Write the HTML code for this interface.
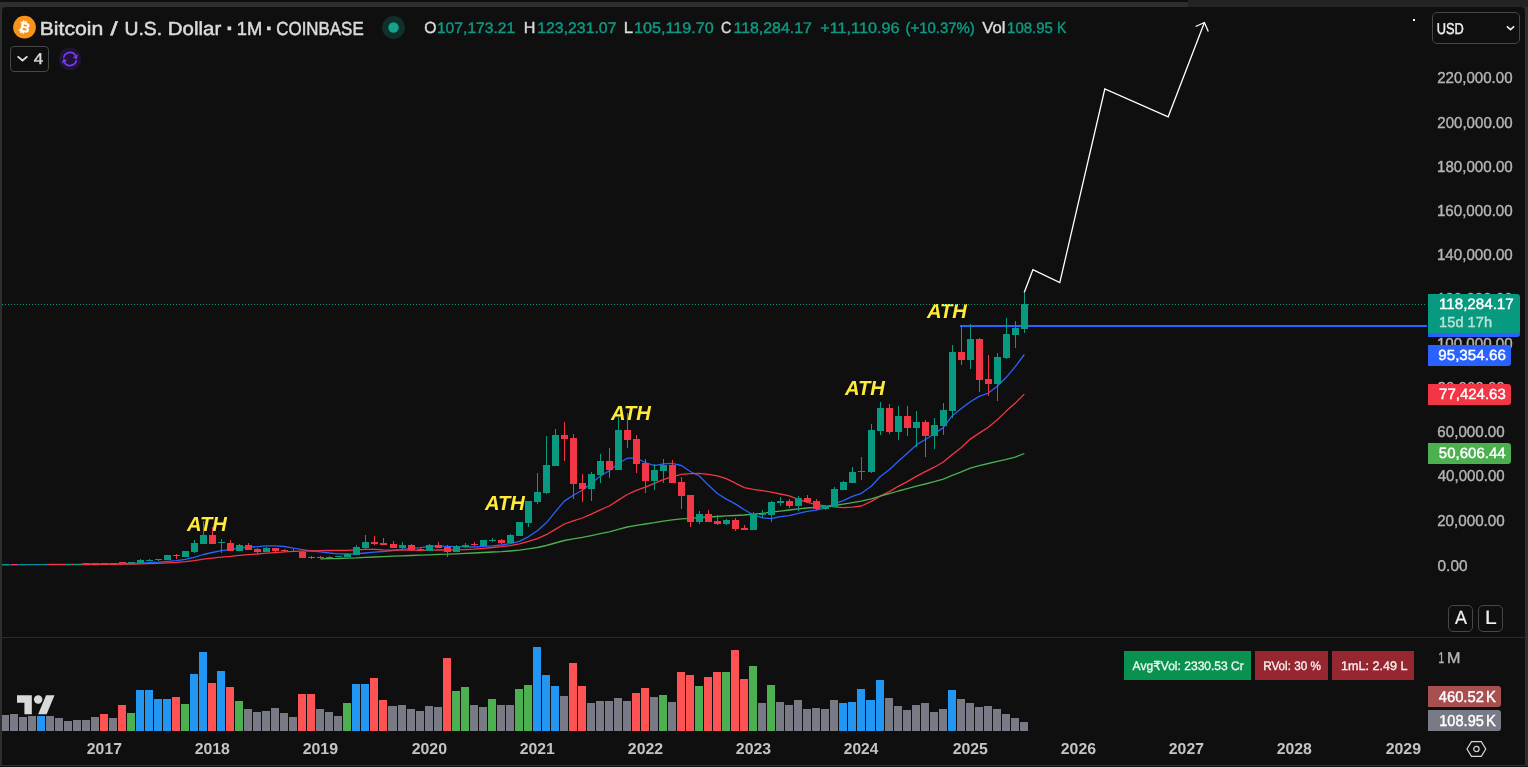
<!DOCTYPE html>
<html lang="en"><head><meta charset="utf-8"><title>Bitcoin / U.S. Dollar · 1M · COINBASE</title>
<style>
html,body{margin:0;padding:0;}
body{width:1528px;height:767px;overflow:hidden;background:#2e2e2e;position:relative;font-family:"Liberation Sans",sans-serif;}
.t0{position:absolute;left:0;top:0;width:1188px;height:2px;background:#0f0f0f;}
.t1{position:absolute;left:1188px;top:0;width:340px;height:7px;background:#232323;}
.bot{position:absolute;left:0;top:766px;width:1528px;height:1px;background:#111;}
.chart{position:absolute;left:2px;top:7px;width:1523px;height:758px;background:#0f0f0f;border-radius:4px 4px 0 0;overflow:hidden;}
.in{position:absolute;left:-2px;top:-7px;width:1528px;height:767px;}
.in svg{position:absolute;left:0;top:0;}
.t{position:absolute;white-space:nowrap;line-height:1;transform-origin:0 0;}
.sep{position:absolute;left:2px;top:637px;width:1523px;height:1px;background:#2b2b2b;}
.tag{position:absolute;left:1428px;border-radius:0 3px 3px 0;}
.btn{position:absolute;box-sizing:border-box;border:1px solid #474747;border-radius:5px;}
.cell{position:absolute;top:651px;height:29px;}
</style></head><body>
<div class="t0"></div><div class="t1"></div><div class="bot"></div>
<div class="chart"><div class="in">
<div class="ath-layer">
<span class="t ath" style="left:186px;top:514px;font-size:20.29px;color:#ffeb3b;transform:translateX(0.92px) scaleX(0.9954) skewX(0.05deg);font-weight:bold;font-style:italic;">ATH</span>
<span class="t ath" style="left:484px;top:493px;font-size:20.29px;color:#ffeb3b;transform:translateX(0.92px) scaleX(0.9954) skewX(0.05deg);font-weight:bold;font-style:italic;">ATH</span>
<span class="t ath" style="left:610px;top:403px;font-size:20.29px;color:#ffeb3b;transform:translateX(0.92px) scaleX(0.9954) skewX(0.05deg);font-weight:bold;font-style:italic;">ATH</span>
<span class="t ath" style="left:844px;top:378px;font-size:20.29px;color:#ffeb3b;transform:translateX(0.92px) scaleX(0.9954) skewX(0.05deg);font-weight:bold;font-style:italic;">ATH</span>
<span class="t ath" style="left:926px;top:301px;font-size:20.29px;color:#ffeb3b;transform:translateX(0.92px) scaleX(0.9954) skewX(0.05deg);font-weight:bold;font-style:italic;">ATH</span>
</div>
<svg width="1528" height="767" viewBox="0 0 1528 767">
<rect x="960" y="325" width="467" height="2" fill="#2962ff" shape-rendering="crispEdges"/>
<g shape-rendering="crispEdges"><rect x="1" y="715" width="8" height="16" fill="#787b86"/><rect x="10" y="714" width="8" height="17" fill="#787b86"/><rect x="19" y="717" width="8" height="14" fill="#787b86"/><rect x="28" y="716" width="8" height="15" fill="#787b86"/><rect x="37" y="716" width="8" height="15" fill="#2196f3"/><rect x="46" y="716" width="8" height="15" fill="#787b86"/><rect x="55" y="718" width="8" height="13" fill="#787b86"/><rect x="64" y="721" width="8" height="10" fill="#787b86"/><rect x="73" y="720" width="8" height="11" fill="#787b86"/><rect x="82" y="720" width="8" height="11" fill="#787b86"/><rect x="91" y="717" width="8" height="14" fill="#787b86"/><rect x="100" y="714" width="8" height="17" fill="#ff5252"/><rect x="109" y="718" width="8" height="13" fill="#787b86"/><rect x="118" y="705" width="8" height="26" fill="#ff5252"/><rect x="127" y="713" width="8" height="18" fill="#4caf50"/><rect x="136" y="690" width="8" height="41" fill="#2196f3"/><rect x="145" y="690" width="8" height="41" fill="#2196f3"/><rect x="154" y="699" width="8" height="32" fill="#2196f3"/><rect x="163" y="699" width="8" height="32" fill="#2196f3"/><rect x="172" y="697" width="8" height="34" fill="#ff5252"/><rect x="181" y="704" width="8" height="27" fill="#4caf50"/><rect x="190" y="674" width="8" height="57" fill="#2196f3"/><rect x="199" y="652" width="8" height="79" fill="#2196f3"/><rect x="208" y="683" width="8" height="48" fill="#ff5252"/><rect x="217" y="671" width="8" height="60" fill="#2196f3"/><rect x="226" y="687" width="8" height="44" fill="#ff5252"/><rect x="235" y="701" width="8" height="30" fill="#4caf50"/><rect x="244" y="709" width="8" height="22" fill="#787b86"/><rect x="253" y="712" width="8" height="19" fill="#787b86"/><rect x="262" y="711" width="8" height="20" fill="#787b86"/><rect x="271" y="708" width="8" height="23" fill="#787b86"/><rect x="280" y="713" width="8" height="18" fill="#787b86"/><rect x="289" y="717" width="8" height="14" fill="#787b86"/><rect x="298" y="694" width="8" height="37" fill="#ff5252"/><rect x="307" y="694" width="8" height="37" fill="#ff5252"/><rect x="316" y="709" width="8" height="22" fill="#787b86"/><rect x="325" y="712" width="8" height="19" fill="#787b86"/><rect x="334" y="716" width="8" height="15" fill="#787b86"/><rect x="343" y="703" width="8" height="28" fill="#4caf50"/><rect x="352" y="684" width="8" height="47" fill="#2196f3"/><rect x="361" y="684" width="8" height="47" fill="#2196f3"/><rect x="370" y="678" width="8" height="53" fill="#ff5252"/><rect x="379" y="700" width="8" height="31" fill="#ff5252"/><rect x="388" y="706" width="9" height="25" fill="#787b86"/><rect x="398" y="705" width="8" height="26" fill="#787b86"/><rect x="407" y="709" width="8" height="22" fill="#787b86"/><rect x="416" y="711" width="8" height="20" fill="#787b86"/><rect x="425" y="706" width="8" height="25" fill="#787b86"/><rect x="434" y="707" width="8" height="24" fill="#787b86"/><rect x="443" y="658" width="8" height="73" fill="#ff5252"/><rect x="452" y="691" width="8" height="40" fill="#4caf50"/><rect x="461" y="687" width="8" height="44" fill="#4caf50"/><rect x="470" y="705" width="8" height="26" fill="#787b86"/><rect x="479" y="707" width="8" height="24" fill="#787b86"/><rect x="488" y="699" width="8" height="32" fill="#4caf50"/><rect x="497" y="705" width="8" height="26" fill="#787b86"/><rect x="506" y="705" width="8" height="26" fill="#787b86"/><rect x="515" y="689" width="8" height="42" fill="#4caf50"/><rect x="524" y="685" width="8" height="46" fill="#4caf50"/><rect x="533" y="647" width="8" height="84" fill="#2196f3"/><rect x="542" y="675" width="8" height="56" fill="#2196f3"/><rect x="551" y="686" width="8" height="45" fill="#2196f3"/><rect x="560" y="696" width="8" height="35" fill="#787b86"/><rect x="569" y="663" width="8" height="68" fill="#ff5252"/><rect x="578" y="686" width="8" height="45" fill="#ff5252"/><rect x="587" y="703" width="8" height="28" fill="#787b86"/><rect x="596" y="701" width="8" height="30" fill="#787b86"/><rect x="605" y="701" width="8" height="30" fill="#787b86"/><rect x="614" y="698" width="8" height="33" fill="#787b86"/><rect x="623" y="701" width="8" height="30" fill="#787b86"/><rect x="632" y="693" width="8" height="38" fill="#ff5252"/><rect x="641" y="688" width="8" height="43" fill="#ff5252"/><rect x="650" y="697" width="8" height="34" fill="#787b86"/><rect x="659" y="695" width="8" height="36" fill="#4caf50"/><rect x="668" y="702" width="8" height="29" fill="#787b86"/><rect x="677" y="672" width="8" height="59" fill="#ff5252"/><rect x="686" y="675" width="8" height="56" fill="#ff5252"/><rect x="695" y="686" width="8" height="45" fill="#4caf50"/><rect x="704" y="677" width="8" height="54" fill="#ff5252"/><rect x="713" y="672" width="8" height="59" fill="#ff5252"/><rect x="722" y="672" width="8" height="59" fill="#4caf50"/><rect x="731" y="650" width="8" height="81" fill="#ff5252"/><rect x="740" y="679" width="8" height="52" fill="#ff5252"/><rect x="749" y="666" width="8" height="65" fill="#4caf50"/><rect x="758" y="703" width="8" height="28" fill="#787b86"/><rect x="767" y="685" width="8" height="46" fill="#4caf50"/><rect x="776" y="702" width="8" height="29" fill="#787b86"/><rect x="785" y="705" width="8" height="26" fill="#787b86"/><rect x="794" y="700" width="8" height="31" fill="#787b86"/><rect x="803" y="709" width="8" height="22" fill="#787b86"/><rect x="812" y="708" width="8" height="23" fill="#787b86"/><rect x="821" y="709" width="8" height="22" fill="#787b86"/><rect x="830" y="700" width="8" height="31" fill="#787b86"/><rect x="839" y="703" width="8" height="28" fill="#2196f3"/><rect x="848" y="702" width="8" height="29" fill="#2196f3"/><rect x="857" y="689" width="8" height="42" fill="#2196f3"/><rect x="866" y="700" width="9" height="31" fill="#2196f3"/><rect x="876" y="680" width="8" height="51" fill="#2196f3"/><rect x="885" y="698" width="8" height="33" fill="#787b86"/><rect x="894" y="706" width="8" height="25" fill="#787b86"/><rect x="903" y="710" width="8" height="21" fill="#787b86"/><rect x="912" y="705" width="8" height="26" fill="#787b86"/><rect x="921" y="703" width="8" height="28" fill="#787b86"/><rect x="930" y="712" width="8" height="19" fill="#787b86"/><rect x="939" y="709" width="8" height="22" fill="#787b86"/><rect x="948" y="690" width="8" height="41" fill="#2196f3"/><rect x="957" y="699" width="8" height="32" fill="#787b86"/><rect x="966" y="703" width="8" height="28" fill="#787b86"/><rect x="975" y="707" width="8" height="24" fill="#787b86"/><rect x="984" y="706" width="8" height="25" fill="#787b86"/><rect x="993" y="709" width="8" height="22" fill="#787b86"/><rect x="1002" y="714" width="8" height="17" fill="#787b86"/><rect x="1011" y="718" width="8" height="13" fill="#787b86"/><rect x="1020" y="722" width="8" height="9" fill="#787b86"/></g>
<polyline points="-12.7,564.9 -3.7,564.8 5.3,564.8 14.3,564.8 23.3,564.7 32.3,564.7 41.3,564.6 50.3,564.5 59.3,564.4 68.3,564.4 77.3,564.3 86.3,564.2 95.3,564.1 104.3,564.0 113.3,563.8 122.3,563.7 131.3,563.5 140.3,563.2 149.3,562.7 158.3,562.2 167.3,561.4 176.3,560.6 185.3,559.3 194.3,557.3 203.3,554.5 212.3,552.5 221.3,550.6 230.3,549.6 239.3,548.1 248.3,547.0 257.3,546.7 266.3,545.9 275.3,545.8 284.3,546.5 293.3,548.2 302.3,549.6 311.3,551.0 320.3,551.8 329.3,553.0 338.3,553.8 347.3,554.0 356.3,553.8 365.3,553.0 374.3,552.2 383.3,551.5 393.3,550.5 402.3,549.3 411.3,548.4 420.3,547.7 429.3,546.5 438.3,545.8 447.3,546.3 456.3,546.7 465.3,546.9 474.3,547.0 483.3,546.3 492.3,545.8 501.3,545.0 510.3,543.6 519.3,541.3 528.3,536.8 537.3,530.8 546.3,522.8 555.3,511.8 564.3,501.1 573.3,495.3 582.3,490.2 591.3,483.4 600.3,476.0 609.3,470.7 618.3,463.5 627.3,458.2 636.3,458.0 645.3,462.5 654.3,465.7 663.3,463.9 672.3,463.3 681.3,465.5 690.3,471.5 699.3,476.0 708.3,485.1 717.3,493.5 726.3,499.1 735.3,503.9 744.3,509.8 753.3,514.7 762.3,517.9 771.3,518.7 780.3,516.6 789.3,515.7 798.3,513.4 807.3,511.3 816.3,510.1 825.3,507.9 834.3,503.9 843.3,500.7 852.3,496.4 861.3,493.3 871.3,486.2 880.3,476.5 889.3,469.8 898.3,461.3 907.3,453.2 916.3,444.9 925.3,439.5 934.3,433.8 943.3,427.6 952.3,415.7 961.3,408.6 970.3,401.7 979.3,396.4 988.3,393.1 997.3,386.2 1006.3,377.3 1015.3,366.6 1024.3,354.5" fill="none" stroke="#2962ff" stroke-width="1.3" stroke-linejoin="round" stroke-linecap="butt"/>
<polyline points="50.3,564.7 59.3,564.7 68.3,564.6 77.3,564.6 86.3,564.5 95.3,564.5 104.3,564.4 113.3,564.3 122.3,564.2 131.3,564.1 140.3,563.8 149.3,563.6 158.3,563.3 167.3,562.8 176.3,562.4 185.3,561.7 194.3,560.7 203.3,559.2 212.3,558.1 221.3,557.1 230.3,556.4 239.3,555.4 248.3,554.6 257.3,554.0 266.3,553.2 275.3,552.6 284.3,551.9 293.3,551.4 302.3,551.1 311.3,550.8 320.3,550.7 329.3,550.5 338.3,550.4 347.3,550.3 356.3,549.9 365.3,549.4 374.3,549.4 383.3,549.9 393.3,550.1 402.3,550.2 411.3,550.1 420.3,550.3 429.3,550.1 438.3,549.9 447.3,550.0 456.3,549.9 465.3,549.6 474.3,549.2 483.3,548.4 492.3,547.5 501.3,546.7 510.3,545.6 519.3,543.9 528.3,541.3 537.3,538.6 546.3,534.7 555.3,529.4 564.3,524.0 573.3,520.8 582.3,518.0 591.3,514.2 600.3,509.8 609.3,506.0 618.3,500.1 627.3,494.5 636.3,490.4 645.3,487.2 654.3,483.4 663.3,479.6 672.3,476.7 681.3,474.4 690.3,473.7 699.3,473.3 708.3,474.3 717.3,475.8 726.3,478.6 735.3,483.2 744.3,487.7 753.3,489.3 762.3,490.6 771.3,492.1 780.3,494.0 789.3,495.9 798.3,499.3 807.3,502.4 816.3,504.6 825.3,505.9 834.3,506.8 843.3,507.7 852.3,507.2 861.3,506.0 871.3,501.4 880.3,496.1 889.3,491.6 898.3,486.3 907.3,481.6 916.3,476.4 925.3,471.7 934.3,467.2 943.3,462.0 952.3,454.5 961.3,447.4 970.3,439.1 979.3,433.1 988.3,427.2 997.3,419.7 1006.3,411.1 1015.3,403.1 1024.3,394.1" fill="none" stroke="#f23645" stroke-width="1.3" stroke-linejoin="round" stroke-linecap="butt"/>
<polyline points="320.3,558.8 329.3,558.6 338.3,558.5 347.3,558.2 356.3,557.9 365.3,557.4 374.3,557.0 383.3,556.6 393.3,556.2 402.3,555.8 411.3,555.5 420.3,555.2 429.3,554.8 438.3,554.4 447.3,554.2 456.3,553.8 465.3,553.4 474.3,553.0 483.3,552.5 492.3,552.0 501.3,551.6 510.3,551.0 519.3,550.2 528.3,548.9 537.3,547.5 546.3,545.5 555.3,543.0 564.3,540.5 573.3,538.9 582.3,537.4 591.3,535.6 600.3,533.7 609.3,531.9 618.3,529.3 627.3,527.0 636.3,525.3 645.3,524.0 654.3,522.7 663.3,521.1 672.3,519.9 681.3,518.8 690.3,518.3 699.3,517.6 708.3,517.0 717.3,516.5 726.3,515.9 735.3,515.5 744.3,515.0 753.3,514.2 762.3,513.3 771.3,512.2 780.3,511.1 789.3,510.0 798.3,508.9 807.3,508.0 816.3,507.3 825.3,506.6 834.3,505.5 843.3,504.2 852.3,502.7 861.3,501.2 871.3,498.8 880.3,496.0 889.3,493.7 898.3,491.0 907.3,488.6 916.3,486.2 925.3,484.0 934.3,481.7 943.3,479.1 952.3,475.3 961.3,471.8 970.3,468.1 979.3,465.7 988.3,463.5 997.3,461.3 1006.3,459.3 1015.3,457.1 1024.3,453.5" fill="none" stroke="#4caf50" stroke-width="1.3" stroke-linejoin="round" stroke-linecap="butt"/>
<g shape-rendering="crispEdges" fill="#089981"><rect x="5" y="564" width="1" height="1"/><rect x="2" y="564" width="7" height="1"/><rect x="23" y="564" width="1" height="1"/><rect x="20" y="564" width="7" height="1"/><rect x="32" y="564" width="1" height="1"/><rect x="29" y="564" width="7" height="1"/><rect x="41" y="564" width="1" height="1"/><rect x="38" y="564" width="7" height="1"/><rect x="68" y="564" width="1" height="1"/><rect x="65" y="564" width="7" height="1"/><rect x="77" y="564" width="1" height="1"/><rect x="74" y="564" width="7" height="1"/><rect x="86" y="563" width="1" height="1"/><rect x="83" y="563" width="7" height="1"/><rect x="95" y="563" width="1" height="1"/><rect x="92" y="563" width="7" height="1"/><rect x="113" y="563" width="1" height="1"/><rect x="110" y="563" width="7" height="1"/><rect x="131" y="562" width="1" height="1"/><rect x="128" y="562" width="7" height="1"/><rect x="140" y="559" width="1" height="4"/><rect x="137" y="560" width="7" height="3"/><rect x="149" y="559" width="1" height="2"/><rect x="146" y="560" width="7" height="1"/><rect x="158" y="559" width="1" height="2"/><rect x="155" y="559" width="7" height="1"/><rect x="167" y="555" width="1" height="5"/><rect x="164" y="555" width="7" height="5"/><rect x="185" y="551" width="1" height="6"/><rect x="182" y="551" width="7" height="6"/><rect x="194" y="540" width="1" height="13"/><rect x="191" y="543" width="7" height="9"/><rect x="203" y="521" width="1" height="23"/><rect x="200" y="535" width="7" height="9"/><rect x="221" y="539" width="1" height="14"/><rect x="218" y="542" width="7" height="1"/><rect x="239" y="544" width="1" height="7"/><rect x="236" y="545" width="7" height="6"/><rect x="266" y="547" width="1" height="5"/><rect x="263" y="548" width="7" height="4"/><rect x="329" y="556" width="1" height="2"/><rect x="326" y="557" width="7" height="1"/><rect x="338" y="556" width="1" height="1"/><rect x="335" y="556" width="7" height="1"/><rect x="347" y="553" width="1" height="4"/><rect x="344" y="554" width="7" height="3"/><rect x="356" y="545" width="1" height="10"/><rect x="353" y="547" width="7" height="8"/><rect x="365" y="535" width="1" height="14"/><rect x="362" y="542" width="7" height="6"/><rect x="402" y="542" width="1" height="7"/><rect x="399" y="545" width="7" height="3"/><rect x="429" y="544" width="1" height="7"/><rect x="426" y="545" width="7" height="6"/><rect x="456" y="545" width="1" height="7"/><rect x="453" y="546" width="7" height="6"/><rect x="465" y="543" width="1" height="5"/><rect x="462" y="545" width="7" height="2"/><rect x="483" y="540" width="1" height="6"/><rect x="480" y="540" width="7" height="6"/><rect x="492" y="538" width="1" height="4"/><rect x="489" y="540" width="7" height="1"/><rect x="510" y="534" width="1" height="9"/><rect x="507" y="535" width="7" height="8"/><rect x="519" y="522" width="1" height="14"/><rect x="516" y="522" width="7" height="14"/><rect x="528" y="501" width="1" height="26"/><rect x="525" y="501" width="7" height="22"/><rect x="537" y="473" width="1" height="31"/><rect x="534" y="492" width="7" height="10"/><rect x="546" y="436" width="1" height="58"/><rect x="543" y="465" width="7" height="28"/><rect x="555" y="429" width="1" height="37"/><rect x="552" y="435" width="7" height="31"/><rect x="591" y="472" width="1" height="29"/><rect x="588" y="474" width="7" height="15"/><rect x="600" y="454" width="1" height="29"/><rect x="597" y="461" width="7" height="14"/><rect x="618" y="417" width="1" height="53"/><rect x="615" y="430" width="7" height="40"/><rect x="654" y="464" width="1" height="26"/><rect x="651" y="470" width="7" height="11"/><rect x="663" y="459" width="1" height="24"/><rect x="660" y="465" width="7" height="6"/><rect x="699" y="511" width="1" height="13"/><rect x="696" y="514" width="7" height="8"/><rect x="726" y="519" width="1" height="6"/><rect x="723" y="520" width="7" height="4"/><rect x="753" y="512" width="1" height="18"/><rect x="750" y="514" width="7" height="16"/><rect x="762" y="510" width="1" height="8"/><rect x="759" y="514" width="7" height="1"/><rect x="771" y="501" width="1" height="21"/><rect x="768" y="502" width="7" height="13"/><rect x="780" y="497" width="1" height="9"/><rect x="777" y="501" width="7" height="2"/><rect x="798" y="496" width="1" height="15"/><rect x="795" y="498" width="7" height="8"/><rect x="825" y="505" width="1" height="5"/><rect x="822" y="506" width="7" height="3"/><rect x="834" y="487" width="1" height="20"/><rect x="831" y="489" width="7" height="18"/><rect x="843" y="481" width="1" height="9"/><rect x="840" y="482" width="7" height="8"/><rect x="852" y="467" width="1" height="16"/><rect x="849" y="472" width="7" height="11"/><rect x="861" y="457" width="1" height="23"/><rect x="858" y="471" width="7" height="1"/><rect x="871" y="424" width="1" height="49"/><rect x="868" y="430" width="7" height="42"/><rect x="880" y="402" width="1" height="33"/><rect x="877" y="408" width="7" height="23"/><rect x="898" y="406" width="1" height="34"/><rect x="895" y="416" width="7" height="16"/><rect x="916" y="411" width="1" height="36"/><rect x="913" y="422" width="7" height="6"/><rect x="934" y="418" width="1" height="31"/><rect x="931" y="425" width="7" height="11"/><rect x="943" y="403" width="1" height="32"/><rect x="940" y="410" width="7" height="16"/><rect x="952" y="345" width="1" height="73"/><rect x="949" y="352" width="7" height="59"/><rect x="970" y="324" width="1" height="45"/><rect x="967" y="339" width="7" height="21"/><rect x="997" y="353" width="1" height="48"/><rect x="994" y="357" width="7" height="27"/><rect x="1006" y="318" width="1" height="41"/><rect x="1003" y="334" width="7" height="24"/><rect x="1015" y="321" width="1" height="27"/><rect x="1012" y="328" width="7" height="7"/><rect x="1024" y="293" width="1" height="40"/><rect x="1021" y="304" width="7" height="25"/></g>
<g shape-rendering="crispEdges" fill="#f23645"><rect x="-4" y="564" width="1" height="1"/><rect x="-7" y="564" width="7" height="1"/><rect x="14" y="564" width="1" height="1"/><rect x="11" y="564" width="7" height="1"/><rect x="50" y="564" width="1" height="1"/><rect x="47" y="564" width="7" height="1"/><rect x="59" y="564" width="1" height="1"/><rect x="56" y="564" width="7" height="1"/><rect x="104" y="563" width="1" height="1"/><rect x="101" y="563" width="7" height="1"/><rect x="122" y="562" width="1" height="2"/><rect x="119" y="562" width="7" height="1"/><rect x="176" y="554" width="1" height="5"/><rect x="173" y="555" width="7" height="1"/><rect x="212" y="527" width="1" height="17"/><rect x="209" y="535" width="7" height="9"/><rect x="230" y="540" width="1" height="11"/><rect x="227" y="543" width="7" height="8"/><rect x="248" y="543" width="1" height="7"/><rect x="245" y="545" width="7" height="5"/><rect x="257" y="548" width="1" height="5"/><rect x="254" y="549" width="7" height="3"/><rect x="275" y="548" width="1" height="4"/><rect x="272" y="548" width="7" height="3"/><rect x="284" y="549" width="1" height="3"/><rect x="281" y="550" width="7" height="1"/><rect x="293" y="549" width="1" height="3"/><rect x="290" y="551" width="7" height="1"/><rect x="302" y="551" width="1" height="7"/><rect x="299" y="552" width="7" height="6"/><rect x="311" y="556" width="1" height="3"/><rect x="308" y="557" width="7" height="1"/><rect x="320" y="556" width="1" height="2"/><rect x="317" y="557" width="7" height="1"/><rect x="374" y="536" width="1" height="9"/><rect x="371" y="542" width="7" height="2"/><rect x="383" y="538" width="1" height="7"/><rect x="380" y="543" width="7" height="2"/><rect x="393" y="541" width="1" height="7"/><rect x="390" y="544" width="7" height="4"/><rect x="411" y="544" width="1" height="7"/><rect x="408" y="545" width="7" height="5"/><rect x="420" y="548" width="1" height="3"/><rect x="417" y="549" width="7" height="1"/><rect x="438" y="542" width="1" height="6"/><rect x="435" y="545" width="7" height="3"/><rect x="447" y="545" width="1" height="12"/><rect x="444" y="547" width="7" height="5"/><rect x="474" y="542" width="1" height="4"/><rect x="471" y="544" width="7" height="1"/><rect x="501" y="539" width="1" height="5"/><rect x="498" y="540" width="7" height="3"/><rect x="564" y="422" width="1" height="39"/><rect x="561" y="435" width="7" height="4"/><rect x="573" y="434" width="1" height="65"/><rect x="570" y="438" width="7" height="46"/><rect x="582" y="474" width="1" height="28"/><rect x="579" y="483" width="7" height="6"/><rect x="609" y="448" width="1" height="30"/><rect x="606" y="461" width="7" height="9"/><rect x="627" y="413" width="1" height="35"/><rect x="624" y="430" width="7" height="10"/><rect x="636" y="435" width="1" height="38"/><rect x="633" y="439" width="7" height="25"/><rect x="645" y="459" width="1" height="34"/><rect x="642" y="463" width="7" height="18"/><rect x="672" y="460" width="1" height="23"/><rect x="669" y="465" width="7" height="18"/><rect x="681" y="477" width="1" height="32"/><rect x="678" y="482" width="7" height="14"/><rect x="690" y="495" width="1" height="32"/><rect x="687" y="495" width="7" height="27"/><rect x="708" y="510" width="1" height="12"/><rect x="705" y="514" width="7" height="8"/><rect x="717" y="515" width="1" height="10"/><rect x="714" y="521" width="7" height="3"/><rect x="735" y="518" width="1" height="13"/><rect x="732" y="520" width="7" height="9"/><rect x="744" y="525" width="1" height="5"/><rect x="741" y="528" width="7" height="2"/><rect x="789" y="499" width="1" height="9"/><rect x="786" y="501" width="7" height="5"/><rect x="807" y="495" width="1" height="7"/><rect x="804" y="498" width="7" height="4"/><rect x="816" y="499" width="1" height="11"/><rect x="813" y="501" width="7" height="8"/><rect x="889" y="404" width="1" height="30"/><rect x="886" y="408" width="7" height="24"/><rect x="907" y="406" width="1" height="30"/><rect x="904" y="416" width="7" height="12"/><rect x="925" y="420" width="1" height="37"/><rect x="922" y="422" width="7" height="14"/><rect x="961" y="326" width="1" height="39"/><rect x="958" y="352" width="7" height="8"/><rect x="979" y="338" width="1" height="54"/><rect x="976" y="339" width="7" height="41"/><rect x="988" y="355" width="1" height="41"/><rect x="985" y="379" width="7" height="5"/></g>
<path d="M2 304h1M5 304h1M8 304h1M11 304h1M14 304h1M17 304h1M20 304h1M23 304h1M26 304h1M29 304h1M32 304h1M35 304h1M38 304h1M41 304h1M44 304h1M47 304h1M50 304h1M53 304h1M56 304h1M59 304h1M62 304h1M65 304h1M68 304h1M71 304h1M74 304h1M77 304h1M80 304h1M83 304h1M86 304h1M89 304h1M92 304h1M95 304h1M98 304h1M101 304h1M104 304h1M107 304h1M110 304h1M113 304h1M116 304h1M119 304h1M122 304h1M125 304h1M128 304h1M131 304h1M134 304h1M137 304h1M140 304h1M143 304h1M146 304h1M149 304h1M152 304h1M155 304h1M158 304h1M161 304h1M164 304h1M167 304h1M170 304h1M173 304h1M176 304h1M179 304h1M182 304h1M185 304h1M188 304h1M191 304h1M194 304h1M197 304h1M200 304h1M203 304h1M206 304h1M209 304h1M212 304h1M215 304h1M218 304h1M221 304h1M224 304h1M227 304h1M230 304h1M233 304h1M236 304h1M239 304h1M242 304h1M245 304h1M248 304h1M251 304h1M254 304h1M257 304h1M260 304h1M263 304h1M266 304h1M269 304h1M272 304h1M275 304h1M278 304h1M281 304h1M284 304h1M287 304h1M290 304h1M293 304h1M296 304h1M299 304h1M302 304h1M305 304h1M308 304h1M311 304h1M314 304h1M317 304h1M320 304h1M323 304h1M326 304h1M329 304h1M332 304h1M335 304h1M338 304h1M341 304h1M344 304h1M347 304h1M350 304h1M353 304h1M356 304h1M359 304h1M362 304h1M365 304h1M368 304h1M371 304h1M374 304h1M377 304h1M380 304h1M383 304h1M386 304h1M389 304h1M392 304h1M395 304h1M398 304h1M401 304h1M404 304h1M407 304h1M410 304h1M413 304h1M416 304h1M419 304h1M422 304h1M425 304h1M428 304h1M431 304h1M434 304h1M437 304h1M440 304h1M443 304h1M446 304h1M449 304h1M452 304h1M455 304h1M458 304h1M461 304h1M464 304h1M467 304h1M470 304h1M473 304h1M476 304h1M479 304h1M482 304h1M485 304h1M488 304h1M491 304h1M494 304h1M497 304h1M500 304h1M503 304h1M506 304h1M509 304h1M512 304h1M515 304h1M518 304h1M521 304h1M524 304h1M527 304h1M530 304h1M533 304h1M536 304h1M539 304h1M542 304h1M545 304h1M548 304h1M551 304h1M554 304h1M557 304h1M560 304h1M563 304h1M566 304h1M569 304h1M572 304h1M575 304h1M578 304h1M581 304h1M584 304h1M587 304h1M590 304h1M593 304h1M596 304h1M599 304h1M602 304h1M605 304h1M608 304h1M611 304h1M614 304h1M617 304h1M620 304h1M623 304h1M626 304h1M629 304h1M632 304h1M635 304h1M638 304h1M641 304h1M644 304h1M647 304h1M650 304h1M653 304h1M656 304h1M659 304h1M662 304h1M665 304h1M668 304h1M671 304h1M674 304h1M677 304h1M680 304h1M683 304h1M686 304h1M689 304h1M692 304h1M695 304h1M698 304h1M701 304h1M704 304h1M707 304h1M710 304h1M713 304h1M716 304h1M719 304h1M722 304h1M725 304h1M728 304h1M731 304h1M734 304h1M737 304h1M740 304h1M743 304h1M746 304h1M749 304h1M752 304h1M755 304h1M758 304h1M761 304h1M764 304h1M767 304h1M770 304h1M773 304h1M776 304h1M779 304h1M782 304h1M785 304h1M788 304h1M791 304h1M794 304h1M797 304h1M800 304h1M803 304h1M806 304h1M809 304h1M812 304h1M815 304h1M818 304h1M821 304h1M824 304h1M827 304h1M830 304h1M833 304h1M836 304h1M839 304h1M842 304h1M845 304h1M848 304h1M851 304h1M854 304h1M857 304h1M860 304h1M863 304h1M866 304h1M869 304h1M872 304h1M875 304h1M878 304h1M881 304h1M884 304h1M887 304h1M890 304h1M893 304h1M896 304h1M899 304h1M902 304h1M905 304h1M908 304h1M911 304h1M914 304h1M917 304h1M920 304h1M923 304h1M926 304h1M929 304h1M932 304h1M935 304h1M938 304h1M941 304h1M944 304h1M947 304h1M950 304h1M953 304h1M956 304h1M959 304h1M962 304h1M965 304h1M968 304h1M971 304h1M974 304h1M977 304h1M980 304h1M983 304h1M986 304h1M989 304h1M992 304h1M995 304h1M998 304h1M1001 304h1M1004 304h1M1007 304h1M1010 304h1M1013 304h1M1016 304h1M1019 304h1M1022 304h1M1025 304h1M1028 304h1M1031 304h1M1034 304h1M1037 304h1M1040 304h1M1043 304h1M1046 304h1M1049 304h1M1052 304h1M1055 304h1M1058 304h1M1061 304h1M1064 304h1M1067 304h1M1070 304h1M1073 304h1M1076 304h1M1079 304h1M1082 304h1M1085 304h1M1088 304h1M1091 304h1M1094 304h1M1097 304h1M1100 304h1M1103 304h1M1106 304h1M1109 304h1M1112 304h1M1115 304h1M1118 304h1M1121 304h1M1124 304h1M1127 304h1M1130 304h1M1133 304h1M1136 304h1M1139 304h1M1142 304h1M1145 304h1M1148 304h1M1151 304h1M1154 304h1M1157 304h1M1160 304h1M1163 304h1M1166 304h1M1169 304h1M1172 304h1M1175 304h1M1178 304h1M1181 304h1M1184 304h1M1187 304h1M1190 304h1M1193 304h1M1196 304h1M1199 304h1M1202 304h1M1205 304h1M1208 304h1M1211 304h1M1214 304h1M1217 304h1M1220 304h1M1223 304h1M1226 304h1M1229 304h1M1232 304h1M1235 304h1M1238 304h1M1241 304h1M1244 304h1M1247 304h1M1250 304h1M1253 304h1M1256 304h1M1259 304h1M1262 304h1M1265 304h1M1268 304h1M1271 304h1M1274 304h1M1277 304h1M1280 304h1M1283 304h1M1286 304h1M1289 304h1M1292 304h1M1295 304h1M1298 304h1M1301 304h1M1304 304h1M1307 304h1M1310 304h1M1313 304h1M1316 304h1M1319 304h1M1322 304h1M1325 304h1M1328 304h1M1331 304h1M1334 304h1M1337 304h1M1340 304h1M1343 304h1M1346 304h1M1349 304h1M1352 304h1M1355 304h1M1358 304h1M1361 304h1M1364 304h1M1367 304h1M1370 304h1M1373 304h1M1376 304h1M1379 304h1M1382 304h1M1385 304h1M1388 304h1M1391 304h1M1394 304h1M1397 304h1M1400 304h1M1403 304h1M1406 304h1M1409 304h1M1412 304h1M1415 304h1M1418 304h1M1421 304h1M1424 304h1" stroke="#089981" stroke-width="1" transform="translate(0,0.5)" shape-rendering="crispEdges" fill="none"/>
<polyline points="1024.2,292.6 1032.9,269.7 1059.8,282.6 1104.8,89 1168.2,116.8 1204.4,22.6" fill="none" stroke="#ffffff" stroke-width="1.3" stroke-linejoin="miter"/>
<polyline points="1195.6,26.5 1204.4,22.5 1208.3,31.5" fill="none" stroke="#ffffff" stroke-width="1.3"/>
<rect x="1413" y="19" width="2" height="2" fill="#fff"/>
</svg>
<div class="sep"></div>
<div class="price-axis">
<span class="t ax" style="left:1437px;top:70px;font-size:15.77px;color:#b4b4b4;transform:translateX(0.15px) scaleX(0.9555) skewX(0.05deg);-webkit-text-stroke:0.4px #b4b4b4;">220,000.00</span>
<span class="t ax" style="left:1437px;top:115px;font-size:15.77px;color:#b4b4b4;transform:translateX(0.29px) scaleX(0.9555) skewX(0.05deg);-webkit-text-stroke:0.4px #b4b4b4;">200,000.00</span>
<span class="t ax" style="left:1436px;top:159px;font-size:15.91px;color:#b4b4b4;transform:translateX(0.94px) scaleX(0.9527) skewX(0.05deg);-webkit-text-stroke:0.4px #b4b4b4;">180,000.00</span>
<span class="t ax" style="left:1436px;top:203px;font-size:15.91px;color:#b4b4b4;transform:translateX(0.87px) scaleX(0.9527) skewX(0.05deg);-webkit-text-stroke:0.4px #b4b4b4;">160,000.00</span>
<span class="t ax" style="left:1436px;top:247px;font-size:15.91px;color:#b4b4b4;transform:translateX(0.9px) scaleX(0.9527) skewX(0.05deg);-webkit-text-stroke:0.4px #b4b4b4;">140,000.00</span>
<span class="t ax" style="left:1436px;top:291px;font-size:15.91px;color:#b4b4b4;transform:translateX(0.9px) scaleX(0.9527) skewX(0.05deg);-webkit-text-stroke:0.4px #b4b4b4;">120,000.00</span>
<span class="t ax" style="left:1436px;top:336px;font-size:15.91px;color:#b4b4b4;transform:translateX(0.87px) scaleX(0.9527) skewX(0.05deg);-webkit-text-stroke:0.4px #b4b4b4;">100,000.00</span>
<span class="t ax" style="left:1437px;top:380px;font-size:15.77px;color:#b4b4b4;transform:translateX(0.48px) scaleX(0.9592) skewX(0.05deg);-webkit-text-stroke:0.4px #b4b4b4;">80,000.00</span>
<span class="t ax" style="left:1437px;top:424px;font-size:15.76px;color:#b4b4b4;transform:translateX(0.35px) scaleX(0.9612) skewX(0.05deg);-webkit-text-stroke:0.4px #b4b4b4;">60,000.00</span>
<span class="t ax" style="left:1437px;top:468px;font-size:15.77px;color:#b4b4b4;transform:translateX(0.73px) scaleX(0.9540) skewX(0.05deg);-webkit-text-stroke:0.4px #b4b4b4;">40,000.00</span>
<span class="t ax" style="left:1437px;top:513px;font-size:15.76px;color:#b4b4b4;transform:translateX(0.12px) scaleX(0.9647) skewX(0.05deg);-webkit-text-stroke:0.4px #b4b4b4;">20,000.00</span>
<span class="t ax" style="left:1437px;top:558px;font-size:15.62px;color:#b4b4b4;transform:translateX(0.55px) scaleX(0.9844) skewX(0.05deg);-webkit-text-stroke:0.4px #b4b4b4;">0.00</span>
</div>
<!-- header -->
<svg style="left:12px;top:15px" width="25" height="25" viewBox="0 0 25 25"><circle cx="12.5" cy="12.200" r="11.350" fill="#f7931a"/><text x="12.500" y="17" text-anchor="middle" transform="rotate(14 12.500 12.200)" font-family="Liberation Sans, DejaVu Sans, sans-serif" font-weight="bold" font-size="13.500" fill="#fff" stroke="#fff" stroke-width="0.300">₿</text></svg>
<svg style="left:382px;top:16px" width="23" height="23" viewBox="0 0 23 23"><circle cx="11.5" cy="11.5" r="11.4" fill="#10302b"/><circle cx="11.5" cy="11.5" r="5.2" fill="#14a38a"/></svg>
<div class="btn" style="left:10px;top:46px;width:39px;height:26px;border-radius:4px;"></div>
<svg style="left:16px;top:54px" width="13" height="9" viewBox="0 0 13 9"><path d="M1.600 2.400l4.900 4.100 4.900-4.100" fill="none" stroke="#e2e2e2" stroke-width="1.800"/></svg>
<svg style="left:58.1px;top:46.6px" width="24" height="24" viewBox="0 0 24 24"><circle cx="12" cy="12" r="11.200" fill="#1e1533"/><path d="M5.60 10.87A6.5 6.5 0 0 1 17.74 8.95M18.40 13.13A6.5 6.5 0 0 1 6.26 15.05" fill="none" stroke="#7b39f2" stroke-width="1.700"/><path d="M18.48 12.45L14.94 10.30L20.31 7.20zM5.52 11.55L9.06 13.70L3.69 16.80z" fill="#7b39f2"/></svg>
<div class="btn" style="left:1432px;top:12px;width:88px;height:32px;"></div>
<svg style="left:1505px;top:24px" width="11" height="8" viewBox="0 0 11 8"><path d="M1.9 2.300l3.600 3.400 3.600-3.400" fill="none" stroke="#ededed" stroke-width="1.6"/></svg>
<div class="tag" style="top:316px;width:92px;height:21px;background:#2962ff;"></div>

<div class="tag" style="top:294px;width:92px;height:39px;background:#089981;"></div>
<div class="tag" style="top:345px;width:83px;height:21px;background:#2962ff;"></div>
<div class="tag" style="top:384px;width:83px;height:21px;background:#f23645;"></div>
<div class="tag" style="top:443px;width:83px;height:21px;background:#4caf50;"></div>
<div class="tag" style="top:686px;width:73px;height:21px;background:#a85050;"></div>
<div class="tag" style="top:710px;width:73px;height:21px;background:#787b86;"></div>
<div class="btn" style="left:1448px;top:605px;width:25px;height:27px;"></div>
<div class="btn" style="left:1478px;top:605px;width:25px;height:27px;"></div>
<div class="cell" style="left:1124px;width:127px;background:#08914f;"></div>
<div class="cell" style="left:1255px;width:73px;background:#962630;"></div>
<div class="cell" style="left:1332px;width:82px;background:#962630;"></div>
<svg style="left:16.8px;top:690.7px" width="38.1" height="29.6" viewBox="0 0 36 28"><path d="M14 22H7V11H0V4h14v18zM28 22h-8l7.500-18h8L28 22z" fill="#d9d9d9"/><circle cx="20" cy="8" r="4" fill="#d9d9d9"/></svg>
<svg style="left:1466px;top:740px" width="21" height="19" viewBox="0 0 21 19"><path d="M5.500 1.600h9.800l4.500 7.400-4.500 7.400H5.500L1 9z" fill="none" stroke="#d4d4d4" stroke-width="1.200"/><circle cx="10.400" cy="9" r="2.700" fill="none" stroke="#d4d4d4" stroke-width="1.200"/></svg>
<div class="labels">
<span class="t " style="left:39px;top:20px;font-size:18.93px;color:#dbdbdb;transform:translateX(0.64px) scaleX(1.1210) skewX(0.05deg);-webkit-text-stroke:0.5px #dbdbdb;">Bitcoin</span>
<span class="t " style="left:110px;top:20px;font-size:18.93px;color:#dbdbdb;transform:translateX(0.36px) scaleX(1.3673) skewX(0.05deg);-webkit-text-stroke:0.5px #dbdbdb;">/</span>
<span class="t " style="left:124px;top:20px;font-size:18.93px;color:#dbdbdb;transform:translateX(0.45px) scaleX(1.0235) skewX(0.05deg);-webkit-text-stroke:0.5px #dbdbdb;">U.S.</span>
<span class="t " style="left:167px;top:20px;font-size:18.93px;color:#dbdbdb;transform:translateX(0.83px) scaleX(1.0806) skewX(0.05deg);-webkit-text-stroke:0.5px #dbdbdb;">Dollar</span>
<span class="t " style="left:225px;top:16px;font-size:25.90px;color:#dbdbdb;transform:translateX(0.75px) scaleX(1.0000) skewX(0.05deg);font-weight:bold;">·</span>
<span class="t " style="left:236px;top:20px;font-size:18.93px;color:#dbdbdb;transform:translateX(0.75px) scaleX(0.9703) skewX(0.05deg);-webkit-text-stroke:0.5px #dbdbdb;">1M</span>
<span class="t " style="left:265px;top:16px;font-size:25.93px;color:#dbdbdb;transform:translateX(0.15px) scaleX(1.0000) skewX(0.05deg);font-weight:bold;">·</span>
<span class="t " style="left:276px;top:20px;font-size:18.93px;color:#dbdbdb;transform:translateX(0.27px) scaleX(0.8936) skewX(0.05deg);-webkit-text-stroke:0.5px #dbdbdb;">COINBASE</span>
<span class="t " style="left:424px;top:19px;font-size:16.18px;color:#dbdbdb;transform:translateX(0.28px) scaleX(0.9698) skewX(0.05deg);-webkit-text-stroke:0.4px #dbdbdb;">O</span>
<span class="t " style="left:436px;top:20px;font-size:15.19px;color:#0c9b84;transform:translateX(0.9px) scaleX(1.0309) skewX(0.05deg);-webkit-text-stroke:0.4px #0c9b84;">107,173.21</span>
<span class="t " style="left:523px;top:19px;font-size:16.16px;color:#dbdbdb;transform:translateX(0.77px) scaleX(1.0019) skewX(0.05deg);-webkit-text-stroke:0.4px #dbdbdb;">H</span>
<span class="t " style="left:537px;top:20px;font-size:15.30px;color:#0c9b84;transform:translateX(0.27px) scaleX(1.0338) skewX(0.05deg);-webkit-text-stroke:0.4px #0c9b84;">123,231.07</span>
<span class="t " style="left:623px;top:19px;font-size:16.16px;color:#dbdbdb;transform:translateX(0.62px) scaleX(1.0334) skewX(0.05deg);-webkit-text-stroke:0.4px #dbdbdb;">L</span>
<span class="t " style="left:633px;top:20px;font-size:15.27px;color:#0c9b84;transform:translateX(0.98px) scaleX(1.0596) skewX(0.05deg);-webkit-text-stroke:0.4px #0c9b84;">105,119.70</span>
<span class="t " style="left:720px;top:19px;font-size:16.17px;color:#dbdbdb;transform:translateX(0.9px) scaleX(0.8958) skewX(0.05deg);-webkit-text-stroke:0.4px #dbdbdb;">C</span>
<span class="t " style="left:733px;top:20px;font-size:15.38px;color:#0c9b84;transform:translateX(0.47px) scaleX(1.0349) skewX(0.05deg);-webkit-text-stroke:0.4px #0c9b84;">118,284.17</span>
<span class="t " style="left:820px;top:20px;font-size:15.15px;color:#0c9b84;transform:translateX(0.35px) scaleX(1.0686) skewX(0.05deg);-webkit-text-stroke:0.4px #0c9b84;">+11,110.96</span>
<span class="t " style="left:905px;top:20px;font-size:15.13px;color:#0c9b84;transform:translateX(0.43px) scaleX(0.9883) skewX(0.05deg);-webkit-text-stroke:0.4px #0c9b84;">(+10.37%)</span>
<span class="t " style="left:982px;top:19px;font-size:16.18px;color:#dbdbdb;transform:translateX(0.29px) scaleX(1.0356) skewX(0.05deg);-webkit-text-stroke:0.4px #dbdbdb;">Vol</span>
<span class="t " style="left:1007px;top:20px;font-size:15.21px;color:#0c9b84;transform:translateX(0.08px) scaleX(0.9832) skewX(0.05deg);-webkit-text-stroke:0.4px #0c9b84;">108.95</span>
<span class="t " style="left:1057px;top:19px;font-size:16.18px;color:#0c9b84;transform:translateX(0.01px) scaleX(0.8667) skewX(0.05deg);-webkit-text-stroke:0.4px #0c9b84;">K</span>
<span class="t " style="left:33px;top:51px;font-size:15.54px;color:#dbdbdb;transform:translateX(0.71px) scaleX(1.0961) skewX(0.05deg);-webkit-text-stroke:0.4px #dbdbdb;">4</span>
<span class="t " style="left:1436px;top:21px;font-size:15.70px;color:#f0f0f0;transform:translateX(0.72px) scaleX(0.8181) skewX(0.05deg);-webkit-text-stroke:0.4px #f0f0f0;">USD</span>
<span class="t " style="left:1455px;top:609px;font-size:18.97px;color:#f0f0f0;transform:translateX(0.09px) scaleX(0.9450) skewX(0.05deg);-webkit-text-stroke:0.2px #f0f0f0;">A</span>
<span class="t " style="left:1485px;top:608px;font-size:19.19px;color:#f0f0f0;transform:translateX(0.03px) scaleX(1.1000) skewX(0.05deg);-webkit-text-stroke:0.2px #f0f0f0;">L</span>
<span class="t tg" style="left:1438px;top:296px;font-size:15.17px;color:#ffffff;transform:translateX(0.94px) scaleX(1.0007) skewX(0.05deg);-webkit-text-stroke:0.4px #ffffff;">118,284.17</span>
<span class="t tg" style="left:1439px;top:315px;font-size:14.44px;color:#b9e2da;transform:translateX(0.11px) scaleX(1.0138) skewX(0.05deg);-webkit-text-stroke:0.4px #b9e2da;">15d 17h</span>
<span class="t tg" style="left:1438px;top:348px;font-size:14.70px;color:#ffffff;transform:translateX(0.23px) scaleX(1.0348) skewX(0.05deg);-webkit-text-stroke:0.4px #ffffff;">95,354.66</span>
<span class="t tg" style="left:1439px;top:387px;font-size:14.81px;color:#ffffff;transform:translateX(0.1px) scaleX(1.0122) skewX(0.05deg);-webkit-text-stroke:0.4px #ffffff;">77,424.63</span>
<span class="t tg" style="left:1438px;top:446px;font-size:14.80px;color:#ffffff;transform:translateX(0.86px) scaleX(1.0134) skewX(0.05deg);-webkit-text-stroke:0.4px #ffffff;">50,606.44</span>
<span class="t " style="left:1438px;top:650px;font-size:15.76px;color:#b4b4b4;transform:translateX(0.47px) scaleX(0.6539) skewX(0.05deg);-webkit-text-stroke:0.4px #b4b4b4;">1</span>
<span class="t " style="left:1447px;top:650px;font-size:15.57px;color:#b4b4b4;transform:translateX(0.07px) scaleX(1.0380) skewX(0.05deg);-webkit-text-stroke:0.4px #b4b4b4;">M</span>
<span class="t tg" style="left:1438px;top:689px;font-size:15.58px;color:#ffffff;transform:translateX(0.74px) scaleX(0.9468) skewX(0.05deg);-webkit-text-stroke:0.4px #ffffff;">460.52</span>
<span class="t tg" style="left:1485px;top:689px;font-size:15.93px;color:#ffffff;transform:translateX(0.99px) scaleX(0.9326) skewX(0.05deg);-webkit-text-stroke:0.4px #ffffff;">K</span>
<span class="t tg" style="left:1439px;top:713px;font-size:15.80px;color:#ffffff;transform:translateX(0.23px) scaleX(0.9236) skewX(0.05deg);-webkit-text-stroke:0.4px #ffffff;">108.95</span>
<span class="t tg" style="left:1485px;top:713px;font-size:15.93px;color:#ffffff;transform:translateX(0.94px) scaleX(0.9326) skewX(0.05deg);-webkit-text-stroke:0.4px #ffffff;">K</span>
<span class="t tg" style="left:1132px;top:660px;font-size:12.31px;color:#eef6f1;transform:translateX(0.61px) scaleX(0.9792) skewX(0.05deg);-webkit-text-stroke:0.35px #eef6f1;font-family:'Liberation Sans','DejaVu Sans',sans-serif;">Avg₹Vol: 2330.53 Cr</span>
<span class="t tg" style="left:1263px;top:660px;font-size:12.44px;color:#f6eeee;transform:translateX(0.16px) scaleX(0.9420) skewX(0.05deg);-webkit-text-stroke:0.35px #f6eeee;">RVol: 30 %</span>
<span class="t tg" style="left:1340px;top:660px;font-size:12.49px;color:#f6eeee;transform:translateX(0.95px) scaleX(1.0075) skewX(0.05deg);-webkit-text-stroke:0.35px #f6eeee;">1mL: 2.49 L</span>
<span class="t yr" style="left:86px;top:741px;font-size:15.83px;color:#c4c4c4;transform:translateX(0.83px) scaleX(0.9964) skewX(0.05deg);font-weight:bold;">2017</span>
<span class="t yr" style="left:194px;top:741px;font-size:15.83px;color:#c4c4c4;transform:translateX(0.64px) scaleX(1.0007) skewX(0.05deg);font-weight:bold;">2018</span>
<span class="t yr" style="left:302px;top:741px;font-size:15.83px;color:#c4c4c4;transform:translateX(0.63px) scaleX(1.0037) skewX(0.05deg);font-weight:bold;">2019</span>
<span class="t yr" style="left:411px;top:741px;font-size:15.83px;color:#c4c4c4;transform:translateX(0.69px) scaleX(1.0028) skewX(0.05deg);font-weight:bold;">2020</span>
<span class="t yr" style="left:519px;top:741px;font-size:15.84px;color:#c4c4c4;transform:translateX(0.69px) scaleX(0.9970) skewX(0.05deg);font-weight:bold;">2021</span>
<span class="t yr" style="left:627px;top:741px;font-size:15.83px;color:#c4c4c4;transform:translateX(0.79px) scaleX(1.0039) skewX(0.05deg);font-weight:bold;">2022</span>
<span class="t yr" style="left:735px;top:741px;font-size:15.83px;color:#c4c4c4;transform:translateX(0.82px) scaleX(1.0004) skewX(0.05deg);font-weight:bold;">2023</span>
<span class="t yr" style="left:843px;top:741px;font-size:15.85px;color:#c4c4c4;transform:translateX(0.81px) scaleX(0.9812) skewX(0.05deg);font-weight:bold;">2024</span>
<span class="t yr" style="left:952px;top:741px;font-size:15.84px;color:#c4c4c4;transform:translateX(0.66px) scaleX(1.0014) skewX(0.05deg);font-weight:bold;">2025</span>
<span class="t yr" style="left:1060px;top:741px;font-size:15.83px;color:#c4c4c4;transform:translateX(0.75px) scaleX(1.0032) skewX(0.05deg);font-weight:bold;">2026</span>
<span class="t yr" style="left:1168px;top:741px;font-size:15.83px;color:#c4c4c4;transform:translateX(0.84px) scaleX(0.9964) skewX(0.05deg);font-weight:bold;">2027</span>
<span class="t yr" style="left:1276px;top:741px;font-size:15.83px;color:#c4c4c4;transform:translateX(0.68px) scaleX(1.0007) skewX(0.05deg);font-weight:bold;">2028</span>
<span class="t yr" style="left:1385px;top:741px;font-size:15.83px;color:#c4c4c4;transform:translateX(0.66px) scaleX(1.0037) skewX(0.05deg);font-weight:bold;">2029</span>
</div>
</div></div>
</body></html>
